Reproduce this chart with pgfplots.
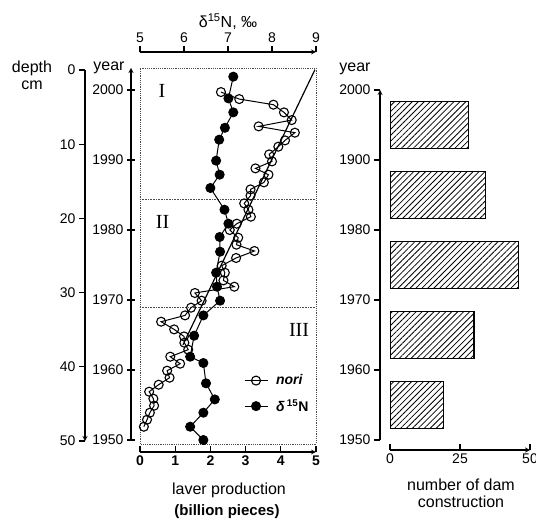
\documentclass[border=0pt]{standalone}
\usepackage{pgfplots}
\pgfplotsset{compat=1.18}
\usepackage{fontspec}
\setmainfont{Liberation Sans}
\newfontfamily\romanfont{Liberation Serif}
\usetikzlibrary{patterns.meta}

\pgfplotsset{
  base/.style={scale only axis,
    /pgf/number format/assume math mode=true,
    tick label style={font=\fontsize{14}{16}\selectfont},
    axis line style={line width=1.2pt,-},
    every outer x axis line/.append style={-},
    every outer y axis line/.append style={-},
    every inner x axis line/.append style={-},
    every inner y axis line/.append style={-},
    major tick style={line width=1.2pt,black},
    major tick length=6pt,
  },
}

\begin{document}
\begin{tikzpicture}
\useasboundingbox (0pt,0pt) rectangle (536pt,520pt);

% ---------- middle: nori (data axis, dotted frame)
\begin{axis}[base, at={(140pt,76pt)}, anchor=south west, width=176pt, height=376pt,
  xmin=0, xmax=5, ymin=1949.43, ymax=2003.14, xtick=\empty, ytick=\empty,
  axis line style={densely dotted, line width=0.6pt, black!70},
  legend style={at={(0.59,0.19)}, anchor=north west, draw=none, fill=none,
    font=\fontsize{14}{16}\selectfont\bfseries, row sep=9pt, inner sep=0pt,
    nodes={inner sep=2pt}},
  legend cell align=left,
  legend image code/.code={\draw[mark repeat=2,mark phase=2,#1] plot coordinates {(0pt,0pt) (11.5pt,0pt) (23pt,0pt)};},
  ]
  \addplot[densely dotted, line width=0.6pt, black!70, forget plot] coordinates {(0,1984.4) (5,1984.4)};
  \addplot[densely dotted, line width=0.6pt, black!70, forget plot] coordinates {(0,1968.9) (5,1968.9)};
  \addplot[black, line width=1.2pt, forget plot] coordinates {(1.22,1963.6) (4.97,2002.9)};
  \addplot[black, line width=1pt, mark=o, mark size=4.5pt,
    mark options={fill=white, line width=1.1pt}] coordinates {
    (2.30,1999.7) (2.82,1998.7) (3.79,1997.9) (4.09,1996.8) (4.31,1995.7)
    (3.37,1994.8) (4.40,1993.9) (4.12,1992.8) (3.93,1991.9) (3.67,1990.8)
    (3.75,1989.8) (3.28,1988.8) (3.65,1987.9) (3.52,1986.8) (3.14,1985.8)
    (3.14,1984.9) (2.96,1983.8) (3.08,1982.9) (3.15,1981.9) (2.75,1980.9)
    (2.55,1980.0) (2.79,1978.9) (2.74,1977.9) (3.25,1977.0) (2.73,1976.0)
    (2.32,1974.9) (2.41,1973.9) (2.37,1972.8) (2.68,1971.9) (1.56,1971.0)
    (1.75,1969.9) (1.45,1968.9) (1.28,1967.8) (0.60,1966.9) (0.97,1965.8)
    (1.25,1964.8) (1.26,1963.9) (1.37,1962.9) (0.86,1961.9) (1.14,1960.9)
    (0.77,1959.9) (0.84,1958.9) (0.53,1957.9) (0.26,1956.9) (0.38,1955.9)
    (0.40,1954.9) (0.28,1953.9) (0.20,1952.9) (0.11,1951.9)};
  \addlegendentry{\hspace{6pt}\textit{nori}}
  \addlegendimage{black, line width=1pt, mark=*, mark size=4.5pt, mark options={fill=black}}
  \addlegendentry{\hspace{6pt}\textit{δ}\,\textsuperscript{15}N}
\end{axis}

% ---------- middle: delta 15N data
\begin{axis}[base, at={(140pt,76pt)}, anchor=south west, width=176pt, height=376pt,
  xmin=5, xmax=9, ymin=1949.43, ymax=2003.14, hide axis]
  \addplot[black, line width=1pt, mark=*, mark size=4.5pt, mark options={fill=black}] coordinates {
    (7.12,2001.9) (7.01,1998.8) (7.12,1996.8) (6.93,1994.6) (6.80,1992.9)
    (6.73,1989.9) (6.81,1987.9) (6.60,1986.0) (6.92,1982.9) (7.01,1980.9)
    (6.81,1979.0) (6.82,1976.9) (6.73,1973.9) (6.75,1971.9) (6.82,1969.9)
    (6.44,1967.8) (6.23,1964.9) (6.14,1961.9) (6.44,1961.0) (6.50,1958.1)
    (6.70,1955.8) (6.44,1953.9) (6.14,1951.9) (6.44,1950.0)};
\end{axis}

% ---------- top delta axis
\begin{axis}[base, at={(140pt,468pt)}, anchor=north west, width=176pt, height=10pt,
  xmin=5, xmax=9, ymin=0, ymax=1, axis x line=top, axis y line=none,
  xtick={5,6,7,8,9}, xticklabels={5,6,7,8,9}, tick align=outside]
\end{axis}

% ---------- bottom nori axis
\begin{axis}[base, at={(140pt,68pt)}, anchor=south west, width=176pt, height=10pt,
  xmin=0, xmax=5, ymin=0, ymax=1, axis x line=bottom, axis y line=none,
  xtick={0,1,2,3,4,5}, xticklabels={0,1,2,3,4,5}, tick align=inside,
  xticklabel style={font=\fontsize{14}{16}\selectfont\bfseries}]
\end{axis}

% ---------- depth axis
\begin{axis}[base, at={(85pt,79pt)}, anchor=south west, width=10pt, height=371pt,
  ymin=0, ymax=50, y dir=reverse, xmin=0, xmax=1, axis y line=left, axis x line=none,
  ytick={0,10,20,30,40,50}, yticklabels={0,10,20,30,40,50}, tick align=outside]
\end{axis}

% ---------- year axis (middle)
\begin{axis}[base, at={(131pt,80pt)}, anchor=south west, width=10pt, height=372pt,
  ymin=1950, ymax=2003.14, xmin=0, xmax=1, axis y line=left, axis x line=none,
  ytick={1950,1960,1970,1980,1990,2000}, yticklabels={1950,1960,1970,1980,1990,2000},
  tick align=center, major tick length=8pt]
\end{axis}

% ---------- right: dam construction bars
\begin{axis}[base, at={(390pt,80pt)}, anchor=south west, width=140pt, height=350pt,
  xmin=0, xmax=50, ymin=1950, ymax=2000, hide axis]
  \addplot[xbar, bar width=6.6, draw=black, line width=1.1pt,
    pattern={Lines[angle=45,distance=4.2pt,line width=0.8pt]}] coordinates {
    (28,1995) (34,1985) (46,1975) (30,1965) (19,1955)};
\end{axis}

\begin{axis}[base, at={(380pt,80pt)}, anchor=south west, width=10pt, height=350pt,
  ymin=1950, ymax=2000, xmin=0, xmax=1, axis y line=left, axis x line=none,
  ytick={1950,1960,1970,1980,1990,2000}, yticklabels={1950,1960,1970,1980,1900,2000},
  tick align=outside]
\end{axis}

\begin{axis}[base, at={(390pt,70pt)}, anchor=south west, width=140pt, height=10pt,
  xmin=0, xmax=50, ymin=0, ymax=1, axis x line=bottom, axis y line=none,
  xtick={0,25,50}, xticklabels={0,25,50}, tick align=inside]
\end{axis}

% ---------- labels
\node[font=\fontsize{16}{18}\selectfont] at (228pt,498pt) {δ\textsuperscript{15}N, ‰};
\node[font=\fontsize{16}{18}\selectfont] at (32pt,452pt) {depth};
\node[font=\fontsize{16}{18}\selectfont] at (32pt,435pt) {cm};
\node[font=\fontsize{16}{18}\selectfont] at (109pt,452pt) {year};
\node[font=\fontsize{16}{18}\selectfont] at (355pt,451pt) {year};
\node[font=\fontsize{16}{18}\selectfont] at (229pt,30pt) {laver production};
\node[font=\fontsize{15}{17}\selectfont\bfseries] at (227pt,8.5pt) {(billion pieces)};
\node[font=\fontsize{16}{18}\selectfont] at (461pt,35pt) {number of dam};
\node[font=\fontsize{16}{18}\selectfont] at (461pt,18pt) {construction};
\node[font=\romanfont\fontsize{20}{22}\selectfont] at (162pt,429.5pt) {I};
\node[font=\romanfont\fontsize{20}{22}\selectfont] at (162.5pt,298.5pt) {II};
\node[font=\romanfont\fontsize{20}{22}\selectfont] at (299pt,190pt) {III};
\end{tikzpicture}
\end{document}
